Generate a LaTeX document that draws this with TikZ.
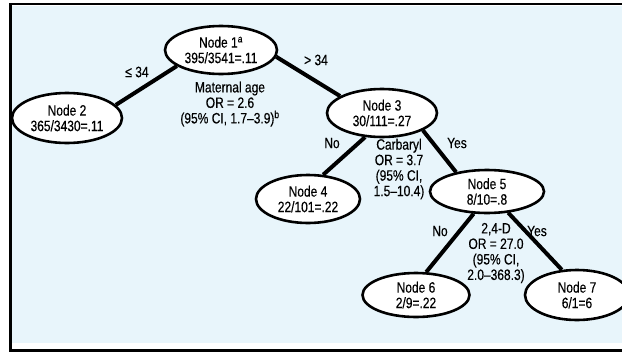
\documentclass[tikz,border=0pt]{standalone}
\usepackage{fontspec}
\setmainfont{Liberation Sans}[FakeStretch=0.8,FakeBold=0.3]
\usetikzlibrary{shapes.geometric}
\definecolor{panelblue}{RGB}{232,245,251}
\begin{document}
\begin{tikzpicture}[x=1pt,y=-1pt,
  font=\fontsize{15}{15.5}\selectfont,
  treenode/.style={ellipse,draw,line width=2.6pt,fill=white,inner sep=0pt,align=center},
  branch/.style={line width=4pt},
  note/.style={align=center,inner sep=0pt}]
\useasboundingbox (0,0) rectangle (622,354);
\clip (0,0) rectangle (622,354);
% panel
\fill[white] (0,0) rectangle (622,354);
\fill[panelblue] (12,5.5) rectangle (622,343);
\draw[line width=2.5pt] (9,4.2) -- (622,4.2);
\draw[line width=3pt] (10.5,3) -- (10.5,352);
\draw[line width=3pt] (9,350.5) -- (622,350.5);

% tree nodes
\node[treenode,minimum width=112pt,minimum height=48pt] (n1) at (221,50) {Node 1\textsuperscript{a}\\395/3541=.11};
\node[treenode,minimum width=110pt,minimum height=50pt] (n2) at (67,118) {Node 2\\365/3430=.11};
\node[treenode,minimum width=110pt,minimum height=48pt] (n3) at (382,113) {Node 3\\30/111=.27};
\node[treenode,minimum width=104pt,minimum height=48pt] (n4) at (308,199) {Node 4\\22/101=.22};
\node[treenode,minimum width=114pt,minimum height=43pt] (n5) at (487,191.5) {Node 5\\8/10=.8};
\node[treenode,minimum width=107pt,minimum height=44pt] (n6) at (416,295) {Node 6\\2/9=.22};
\node[treenode,minimum width=104pt,minimum height=50pt] (n7) at (577,295) {Node 7\\6/1=6};

% branches
\draw[branch] (n1.200) -- (n2.15);
\draw[branch] (n1.353) -- (n3.158);
\draw[branch] (n3.235) -- (n4.58);
\draw[branch] (n3.337) -- (n5.148);
\draw[branch] (n5.239) -- (n6.66);
\draw[branch] (n5.315) -- (n7.121);

% branch labels
\node[note] (l12) at (137,72) {≤ 34};
\node[note] (l13) at (316,60) {> 34};
\node[note] (l34) at (332,143) {No};
\node[note] (l35) at (457,143) {Yes};
\node[note] (l56) at (440,231) {No};
\node[note] (l57) at (537,231) {Yes};

% split statistics
\node[note] (s1) at (230,104) {Maternal age\\OR = 2.6\\(95\% CI, 1.7--3.9)\textsuperscript{b}};
\node[note] (s3) at (399,169) {Carbaryl\\OR = 3.7\\(95\% CI,\\1.5--10.4)};
\node[note] (s5) at (496,253) {2,4-D\\OR = 27.0\\(95\% CI,\\2.0--368.3)};
\end{tikzpicture}
\end{document}
